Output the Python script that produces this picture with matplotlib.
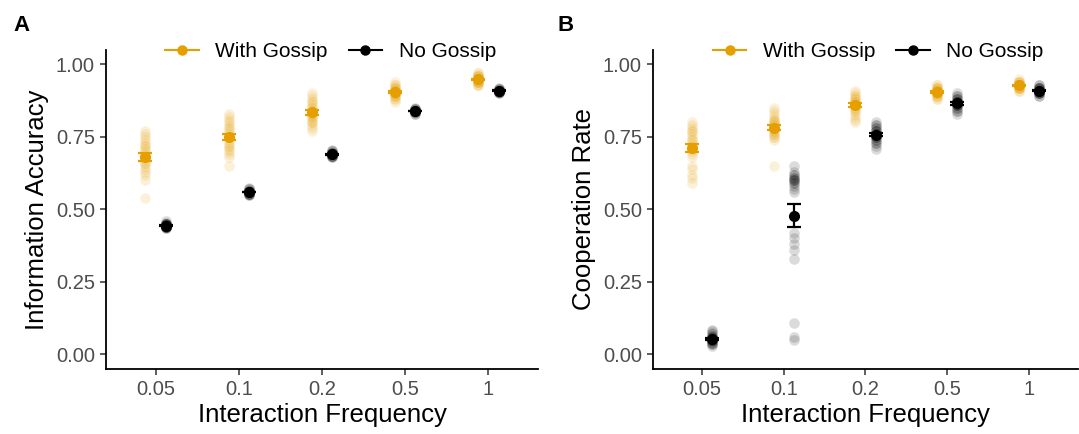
import matplotlib
matplotlib.use("Agg")
import matplotlib.pyplot as plt
from matplotlib.lines import Line2D
import numpy as np

plt.rcParams['font.family'] = ['Liberation Sans', 'DejaVu Sans']

freq_labels = ["0.05", "0.1", "0.2", "0.5", "1"]
conditions = ["With Gossip", "No Gossip"]
colors = {"With Gossip": "#E69F00", "No Gossip": "#000000"}

# Panel A: information accuracy, one list of runs per frequency
acc_gossip = [
    [0.77, 0.76, 0.75, 0.74, 0.73, 0.72, 0.72, 0.71, 0.70, 0.69, 0.68, 0.67, 0.66, 0.66, 0.65, 0.64, 0.63, 0.62, 0.60, 0.54],
    [0.83, 0.82, 0.81, 0.80, 0.79, 0.78, 0.78, 0.77, 0.76, 0.75, 0.75, 0.74, 0.73, 0.72, 0.72, 0.71, 0.70, 0.69, 0.68, 0.65],
    [0.90, 0.89, 0.88, 0.87, 0.87, 0.86, 0.85, 0.85, 0.84, 0.84, 0.83, 0.83, 0.82, 0.82, 0.81, 0.80, 0.80, 0.79, 0.78, 0.77],
    [0.94, 0.93, 0.93, 0.92, 0.92, 0.92, 0.91, 0.91, 0.91, 0.91, 0.90, 0.90, 0.90, 0.90, 0.89, 0.89, 0.89, 0.88, 0.88, 0.87],
    [0.97, 0.97, 0.96, 0.96, 0.96, 0.96, 0.95, 0.95, 0.95, 0.95, 0.95, 0.95, 0.94, 0.94, 0.94, 0.94, 0.94, 0.93, 0.93, 0.93],
]
acc_none = [
    [0.46, 0.455, 0.45, 0.45, 0.45, 0.445, 0.445, 0.445, 0.44, 0.44, 0.44, 0.44, 0.435, 0.435, 0.44, 0.45, 0.445, 0.44, 0.45, 0.44],
    [0.575, 0.57, 0.57, 0.565, 0.565, 0.56, 0.56, 0.56, 0.56, 0.56, 0.555, 0.555, 0.555, 0.55, 0.55, 0.565, 0.56, 0.56, 0.555, 0.56],
    [0.705, 0.70, 0.70, 0.695, 0.695, 0.69, 0.69, 0.69, 0.69, 0.69, 0.685, 0.685, 0.685, 0.68, 0.68, 0.695, 0.69, 0.69, 0.685, 0.69],
    [0.85, 0.845, 0.845, 0.84, 0.84, 0.84, 0.84, 0.84, 0.84, 0.835, 0.835, 0.835, 0.83, 0.83, 0.84, 0.845, 0.84, 0.835, 0.84, 0.84],
    [0.92, 0.915, 0.915, 0.91, 0.91, 0.91, 0.91, 0.91, 0.91, 0.905, 0.905, 0.905, 0.90, 0.90, 0.91, 0.915, 0.91, 0.905, 0.91, 0.91],
]

# Panel B: cooperation rate
coop_gossip = [
    [0.80, 0.79, 0.78, 0.77, 0.77, 0.76, 0.75, 0.74, 0.74, 0.73, 0.72, 0.71, 0.70, 0.69, 0.68, 0.65, 0.64, 0.62, 0.61, 0.59],
    [0.85, 0.84, 0.83, 0.82, 0.81, 0.81, 0.80, 0.80, 0.79, 0.79, 0.78, 0.78, 0.77, 0.77, 0.76, 0.76, 0.75, 0.75, 0.74, 0.65],
    [0.91, 0.90, 0.89, 0.89, 0.88, 0.88, 0.87, 0.87, 0.87, 0.86, 0.86, 0.86, 0.85, 0.85, 0.84, 0.84, 0.83, 0.82, 0.81, 0.80],
    [0.93, 0.93, 0.92, 0.92, 0.92, 0.92, 0.91, 0.91, 0.91, 0.91, 0.91, 0.90, 0.90, 0.90, 0.90, 0.89, 0.89, 0.89, 0.88, 0.88],
    [0.95, 0.94, 0.94, 0.94, 0.93, 0.93, 0.93, 0.93, 0.93, 0.93, 0.93, 0.92, 0.92, 0.92, 0.92, 0.92, 0.91, 0.91, 0.94, 0.93],
]
coop_none = [
    [0.086, 0.08, 0.075, 0.07, 0.065, 0.06, 0.06, 0.055, 0.055, 0.05, 0.05, 0.05, 0.045, 0.045, 0.04, 0.04, 0.035, 0.035, 0.03, 0.06],
    [0.65, 0.63, 0.62, 0.62, 0.61, 0.61, 0.60, 0.60, 0.60, 0.59, 0.59, 0.58, 0.57, 0.56,
     0.42, 0.40, 0.38, 0.36, 0.33, 0.11, 0.06, 0.05],
    [0.80, 0.79, 0.79, 0.78, 0.78, 0.77, 0.77, 0.77, 0.76, 0.76, 0.76, 0.75, 0.75, 0.75, 0.74, 0.74, 0.73, 0.73, 0.72, 0.71],
    [0.90, 0.89, 0.89, 0.88, 0.88, 0.88, 0.87, 0.87, 0.87, 0.87, 0.87, 0.86, 0.86, 0.86, 0.86, 0.85, 0.85, 0.84, 0.84, 0.83],
    [0.93, 0.93, 0.92, 0.92, 0.92, 0.92, 0.91, 0.91, 0.91, 0.91, 0.91, 0.91, 0.90, 0.90, 0.90, 0.90, 0.90, 0.89, 0.89, 0.92],
]

TICK_COLOR = "#4D4D4D"
DODGE = 0.125


def draw_panel(ax, series, ylabel, letter, legend_x, letter_x):
    xs = np.arange(1, len(freq_labels) + 1)
    for cond, offset in zip(conditions, (-DODGE, DODGE)):
        col = colors[cond]
        runs = series[cond]
        # individual runs, faint
        for x, vals in zip(xs, runs):
            ax.scatter(np.full(len(vals), x + offset), vals, s=58, color=col,
                       alpha=0.14, linewidths=0, zorder=2)
        means = np.array([np.mean(v) for v in runs])
        ses = np.array([np.std(v, ddof=1) / np.sqrt(len(v)) for v in runs])
        ax.errorbar(xs + offset, means, yerr=ses, fmt='none', ecolor=col,
                    elinewidth=1.6, capsize=5, capthick=1.6, zorder=3)
        ax.scatter(xs + offset, means, s=64, color=col, linewidths=0, zorder=4)

    ax.set_xlim(0.4, 5.6)
    ax.set_ylim(-0.05, 1.05)
    ax.set_xticks(xs)
    ax.set_xticklabels(freq_labels)
    ax.set_yticks([0, 0.25, 0.5, 0.75, 1.0])
    ax.set_yticklabels(["0.00", "0.25", "0.50", "0.75", "1.00"])
    ax.tick_params(axis='both', labelsize=14.5, colors="#333333", labelcolor=TICK_COLOR,
                   length=4, width=1.1, pad=4)
    for side in ("top", "right"):
        ax.spines[side].set_visible(False)
    for side in ("left", "bottom"):
        ax.spines[side].set_linewidth(1.3)
    ax.set_xlabel("Interaction Frequency", fontsize=18.5, labelpad=3)
    ax.set_ylabel(ylabel, fontsize=18.5, labelpad=5)

    handles = [Line2D([0], [0], color=colors[c], lw=1.5, marker='o', markersize=6.5)
               for c in conditions]
    ax.legend(handles, conditions, loc='center', bbox_to_anchor=(legend_x, 0.995), ncol=2,
              frameon=False, fontsize=15, handlelength=1.6, handletextpad=0.8,
              columnspacing=1.0, borderaxespad=0)
    ax.text(letter_x, 1.078, letter, transform=ax.transAxes, fontsize=16,
            fontweight='bold', ha='left', va='center')


fig = plt.figure(figsize=(10.79, 4.34), dpi=100)
ax_a = fig.add_axes([0.0982, 0.1498, 0.4004, 0.735])
ax_b = fig.add_axes([0.6052, 0.1498, 0.3938, 0.735])

draw_panel(ax_a, {"With Gossip": acc_gossip, "No Gossip": acc_none},
           "Information Accuracy", "A", 0.52, -0.215)
draw_panel(ax_b, {"With Gossip": coop_gossip, "No Gossip": coop_none},
           "Cooperation Rate", "B", 0.53, -0.224)

fig.savefig("out.png", dpi=100, facecolor="white")
